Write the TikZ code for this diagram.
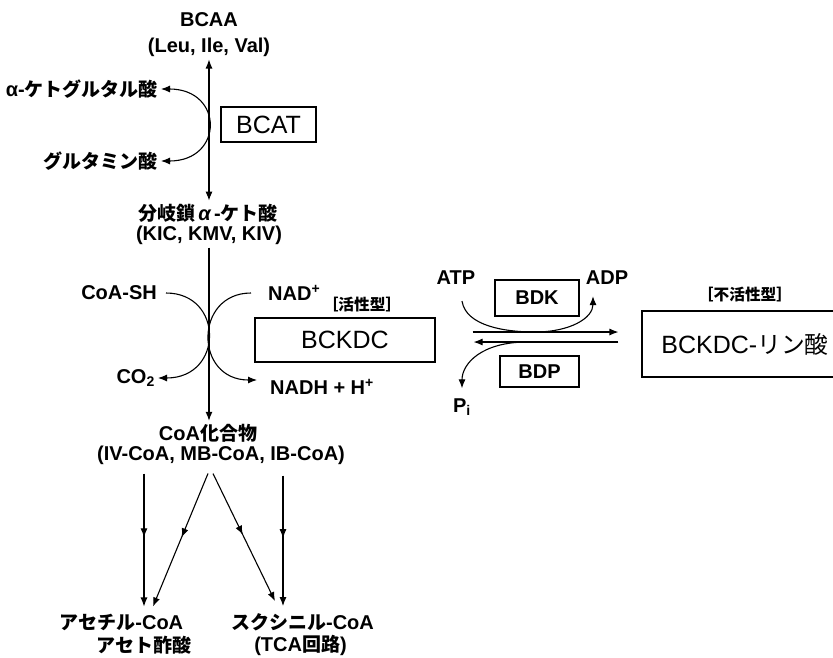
\documentclass[tikz,border=0pt]{standalone}
\usepackage{fontspec}
\setmainfont{Liberation Sans}
\newfontfamily\jp{Noto Sans CJK JP}[Scale=0.95]
\usetikzlibrary{arrows.meta,decorations.markings}
\tikzset{>={Latex[length=9pt,width=7pt]}}
\begin{document}
\begin{tikzpicture}[x=1pt,y=-1pt,
  lab/.style={font=\bfseries\fontsize{20}{24}\selectfont, inner sep=3pt},
  tag/.style={font=\bfseries\fontsize{16.5}{19}\selectfont, inner sep=1pt},
  bigbox/.style={draw, line width=1.1pt, font=\fontsize{25}{30}\selectfont, inner sep=0pt},
  smallbox/.style={draw, line width=1.1pt, font=\bfseries\fontsize{20}{24}\selectfont, inner sep=0pt},
  conn/.style={line width=1.1pt},
  midarrow/.style={conn, ->, postaction={decorate},
    decoration={markings, mark=at position 0.48 with {\arrow{>}}}}
]
\useasboundingbox (0,0) rectangle (833,657);
\clip (0,0) rectangle (833,657);

% --- BCAT step
\node[lab] (bcaa) at (209,20) {BCAA};
\node[lab] (bcaa2) at (209,47) {(Leu, Ile, Val)};
\node[lab, anchor=east] (akg) at (161,89) {α-{\jp ケトグルタル酸}};
\node[lab, anchor=east] (glu) at (161,161) {{\jp グルタミン酸}};
\node[bigbox, minimum width=95pt, minimum height=35pt] (bcat) at (268.5,124.5) {BCAT};
\node[lab] (keto) at (208,213) {{\jp 分岐鎖}\,{\itshape α}\,-{\jp ケト酸}};
\node[lab] (keto2) at (209,235) {(KIC, KMV, KIV)};

\draw[conn, <->] (bcaa2.south) -- (bcaa2.south |- keto.north);
\draw[conn, <->] (akg.east) .. controls +(63,0) and +(63,0) .. (glu.east);

% --- BCKDC step
\node[lab, anchor=east] (coash) at (160,293) {CoA-SH};
\node[lab, anchor=west] (nad) at (265,293) {NAD\textsuperscript{+}};
\node[tag] (act) at (362,305) {{\jp ［活性型］}};
\node[bigbox, minimum width=180pt, minimum height=44pt] (bckdc) at (345,340) {BCKDC};
\node[lab, anchor=east] (co2) at (158,378) {CO\textsubscript{2}};
\node[lab, anchor=west] (nadh) at (267,387) {NADH + H\textsuperscript{+}};
\node[lab] (coa) at (208,433) {CoA{\jp 化合物}};
\node[lab] (coa2) at (221,455) {(IV-CoA, MB-CoA, IB-CoA)};

\draw[conn, ->] (keto2.south) -- (keto2.south |- coa.north);
\draw[conn, ->] ([xshift=6pt]coash.east) .. controls +(58,0) and +(66,0) .. (co2.east);
\draw[conn, ->] ([xshift=-14pt]nad.west) .. controls +(-57,0) and +(-63,0) .. ([xshift=-10pt,yshift=7pt]nadh.west);

% --- regulation
\node[lab] (atp) at (456,278) {ATP};
\node[lab] (adp) at (607,278) {ADP};
\node[smallbox, minimum width=84pt, minimum height=36pt] (bdk) at (537,298) {BDK};
\node[smallbox, minimum width=79pt, minimum height=31pt] (bdp) at (539.5,371.5) {BDP};
\node[tag] (inact) at (745,295) {{\jp ［不活性型］}};
\node[bigbox, minimum width=206pt, minimum height=66pt] (phos) at (745,344) {BCKDC-{\jp リン酸}};
\node[lab] (pi) at (462,407) {P\textsubscript{i}};

\draw[conn, ->, shorten <=37pt, shorten >=23pt] ([yshift=8pt]bckdc.east) -- ([yshift=8pt]bckdc.east -| phos.west);
\draw[conn, ->, shorten <=23pt, shorten >=38pt] ([yshift=-2pt]bckdc.east -| phos.west) -- ([yshift=-2pt]bckdc.east);
\draw[conn, ->] ([xshift=6pt,yshift=-13pt]atp.south) .. controls +(4,25) and +(-30,0) .. (535,332)
   .. controls +(35,0) and +(0,22) .. ([xshift=-14pt,yshift=-8pt]adp.south);
\coordinate (pstart) at (527,342);
\draw[conn, ->] (pstart) .. controls +(-45,0) and +(0,-25) .. ([yshift=7pt]pi.north);

% --- products
\node[lab] (acet) at (121.5,622) {{\jp アセチル}-CoA};
\node[lab] (acet2) at (144,645) {{\jp アセト酢酸}};
\node[lab] (succ) at (302.5,622) {{\jp スクシニル}-CoA};
\node[lab] (succ2) at (300.5,645) {(TCA{\jp 回路})};

\draw[midarrow] ([xshift=-77pt,yshift=-6pt]coa2.south) -- ([xshift=22.5pt,yshift=4pt]acet.north);
\draw[midarrow] ([xshift=-13pt,yshift=-6pt]coa2.south) -- ([xshift=31.5pt,yshift=4pt]acet.north);
\draw[midarrow] ([xshift=-8pt,yshift=-6pt]coa2.south) -- ([xshift=-27.5pt,yshift=9pt]succ.north);
\draw[midarrow] ([xshift=62pt,yshift=-8pt]coa2.south) -- ([xshift=-19.5pt,yshift=4pt]succ.north);
\end{tikzpicture}
\end{document}
